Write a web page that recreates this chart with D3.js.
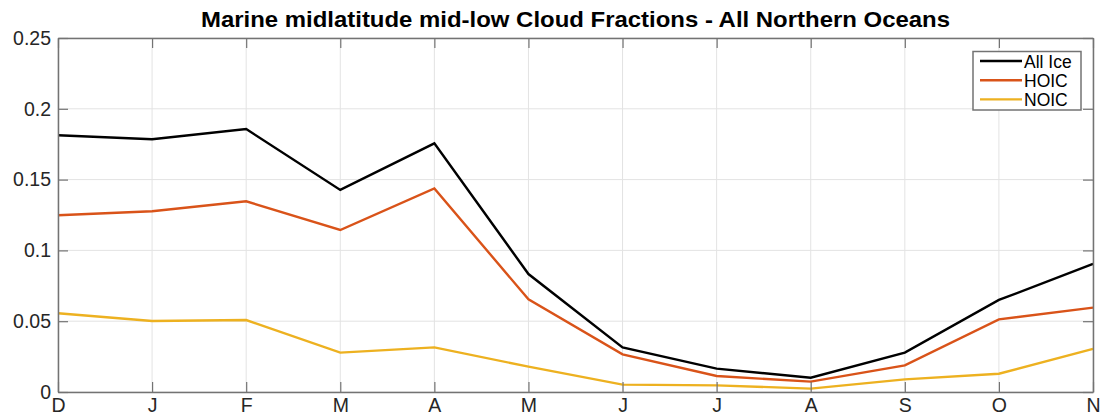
<!DOCTYPE html>
<html>
<head>
<meta charset="utf-8">
<script src="https://cdn.jsdelivr.net/npm/d3@7"></script>
<style>
  body { margin: 0; background: #fff; }
  svg { display: block; font-family: "Liberation Sans", Arial, Helvetica, sans-serif; }
</style>
</head>
<body>
<svg id="chart" width="1102" height="419"></svg>
<script>
// Monthly mid-low cloud fractions, December through November
const months = ["D", "J", "F", "M", "A", "M", "J", "J", "A", "S", "O", "N"];
const allIce = [0.1813, 0.1785, 0.1857, 0.1427, 0.1756, 0.0833, 0.0315, 0.0165, 0.0101, 0.0278, 0.0650, 0.0904];
const hoic   = [0.1248, 0.1276, 0.1347, 0.1144, 0.1438, 0.0654, 0.0266, 0.0113, 0.0073, 0.0188, 0.0513, 0.0596];
const noic   = [0.0556, 0.0501, 0.0508, 0.0278, 0.0315, 0.0179, 0.0052, 0.0047, 0.0024, 0.0089, 0.0129, 0.0304];
const yTicks = [0, 0.05, 0.1, 0.15, 0.2, 0.25];
const yTickLabels = ["0", "0.05", "0.1", "0.15", "0.2", "0.25"];
const seriesNames = ["All Ice", "HOIC", "NOIC"];
const seriesColors = ["#000000", "#D95319", "#EDB120"];
const chartTitle = "Marine midlatitude mid-low Cloud Fractions - All Northern Oceans";

const series = [allIce, hoic, noic];

const svg = d3.select("#chart");
const margin = { left: 58, right: 9, top: 38, bottom: 27 };
const W = 1102, H = 419;
const x0 = margin.left, x1 = W - margin.right;
const y0 = H - margin.bottom, y1 = margin.top;

const x = d3.scaleLinear().domain([0, months.length - 1]).range([x0, x1]);
const y = d3.scaleLinear().domain([0, 0.25]).range([y0, y1]);

const axisColor = "#737373";
const gridColor = "#e3e3e3";
const tickLen = 10;

// grid
const grid = svg.append("g");
grid.selectAll("line.vx").data(d3.range(months.length)).join("line")
  .attr("x1", d => x(d)).attr("x2", d => x(d))
  .attr("y1", y1).attr("y2", y0)
  .attr("stroke", gridColor).attr("stroke-width", 1);
grid.selectAll("line.hy").data(yTicks).join("line")
  .attr("x1", x0).attr("x2", x1)
  .attr("y1", d => y(d)).attr("y2", d => y(d))
  .attr("stroke", gridColor).attr("stroke-width", 1);

// data lines
const line = d3.line().x((d, i) => x(i)).y(d => y(d));
series.forEach((s, k) => {
  svg.append("path").datum(s)
    .attr("d", line)
    .attr("fill", "none")
    .attr("stroke", seriesColors[k])
    .attr("stroke-width", 2.4)
    .attr("stroke-linejoin", "miter");
});

// axes with inward ticks on all four sides
const fmtY = d => yTickLabels[yTicks.indexOf(d)];
const bottomAxis = d3.axisBottom(x).tickValues(d3.range(months.length))
  .tickFormat(i => months[i]).tickSizeInner(-tickLen).tickSizeOuter(0).tickPadding(6);
const topAxis = d3.axisTop(x).tickValues(d3.range(months.length))
  .tickFormat("").tickSizeInner(-tickLen).tickSizeOuter(0);
const leftAxis = d3.axisLeft(y).tickValues(yTicks).tickFormat(fmtY)
  .tickSizeInner(-tickLen).tickSizeOuter(0).tickPadding(7);
const rightAxis = d3.axisRight(y).tickValues(yTicks).tickFormat("")
  .tickSizeInner(-tickLen).tickSizeOuter(0);

function styleAxis(g) {
  g.select(".domain").attr("stroke", axisColor).attr("stroke-width", 1.5);
  g.selectAll(".tick line").attr("stroke", axisColor).attr("stroke-width", 1.2);
  g.selectAll(".tick text").attr("fill", "#262626").style("font-size", "19.5px")
    .style("font-family", "'Liberation Sans', Arial, Helvetica, sans-serif");
}

svg.append("g").attr("transform", `translate(0,${y0})`).call(bottomAxis).call(styleAxis);
svg.append("g").attr("transform", `translate(0,${y1})`).call(topAxis).call(styleAxis);
svg.append("g").attr("transform", `translate(${x0},0)`).call(leftAxis).call(styleAxis);
svg.append("g").attr("transform", `translate(${x1},0)`).call(rightAxis).call(styleAxis);

// title
svg.append("text")
  .attr("x", 201).attr("y", 26.5)
  .attr("textLength", 749)
  .attr("lengthAdjust", "spacingAndGlyphs")
  .attr("font-weight", "bold")
  .attr("font-size", 22)
  .attr("fill", "#000")
  .text(chartTitle);

// legend
const lg = svg.append("g").attr("transform", "translate(973,51.5)");
lg.append("rect").attr("width", 108).attr("height", 58.5)
  .attr("fill", "#fff").attr("stroke", axisColor).attr("stroke-width", 1.5);
seriesNames.forEach((name, k) => {
  const cy = 9.5 + k * 19.2;
  lg.append("line").attr("x1", 7).attr("x2", 49).attr("y1", cy).attr("y2", cy)
    .attr("stroke", seriesColors[k]).attr("stroke-width", 2.4);
  lg.append("text").attr("x", 51).attr("y", cy + 6.5)
    .attr("font-size", 17.5).attr("fill", "#000").text(name);
});
</script>
</body>
</html>
